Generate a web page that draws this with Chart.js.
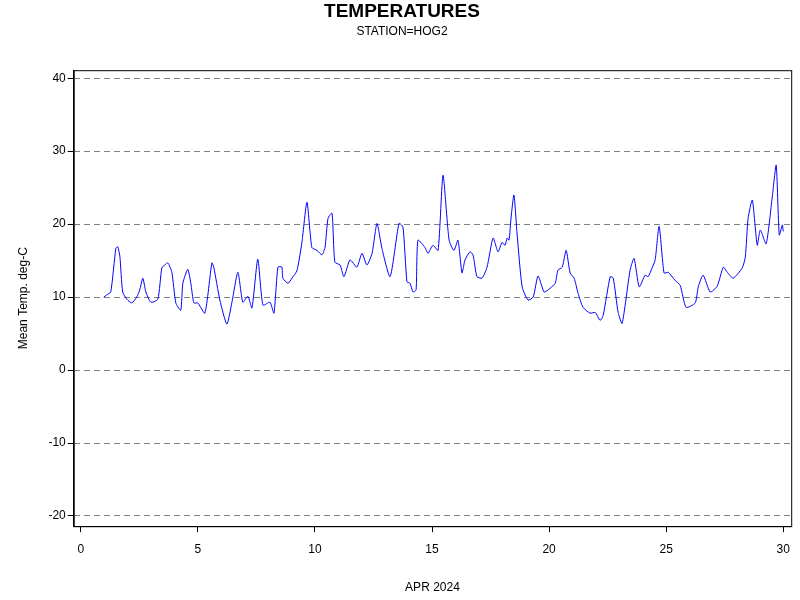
<!DOCTYPE html>
<html>
<head>
<script src="https://cdn.jsdelivr.net/npm/chart.js@4"></script>
<style>
body { margin: 0; background: #fff; }
#wrap { width: 800px; height: 600px; }
</style>
</head>
<body>
<div id="wrap"><canvas id="myChart"></canvas></div>
<script>
// day of April (decimal) and mean temperature
const days = [0.98, 1.11, 1.28, 1.50, 1.58, 1.67, 1.79, 1.97, 2.18, 2.39, 2.52, 2.65, 2.78, 2.99, 3.29, 3.46, 3.59, 3.72, 3.89, 4.06,
    4.27, 4.36, 4.57, 4.70, 4.83, 5.00, 5.30, 5.60, 5.68, 5.94, 6.24, 6.45, 6.71, 6.92, 7.14, 7.31, 7.56, 7.78, 8.08, 8.25,
    8.42, 8.59, 8.63, 8.85, 9.02, 9.23, 9.44, 9.66, 9.87, 10.09, 10.30, 10.43, 10.56, 10.73, 10.85, 11.07, 11.24, 11.50, 11.79, 12.01,
    12.22, 12.44, 12.65, 12.86, 13.21, 13.59, 13.76, 13.93, 14.06, 14.19, 14.32, 14.40, 14.70, 14.83, 15.04, 15.26, 15.47, 15.73, 15.94, 16.11,
    16.28, 16.41, 16.62, 16.75, 16.92, 17.14, 17.35, 17.61, 17.82, 17.99, 18.12, 18.21, 18.29, 18.38, 18.50, 18.63, 18.85, 19.10, 19.32, 19.53,
    19.79, 20.04, 20.26, 20.38, 20.56, 20.73, 20.90, 21.07, 21.24, 21.45, 21.75, 21.97, 22.18, 22.31, 22.61, 22.74, 22.95, 23.12, 23.46, 23.63,
    23.85, 24.10, 24.23, 24.40, 24.53, 24.70, 24.91, 25.09, 25.38, 25.60, 25.85, 26.24, 26.37, 26.58, 26.88, 27.18, 27.44, 27.61, 27.86, 28.25,
    28.38, 28.50, 28.68, 28.89, 29.02, 29.27, 29.53, 29.70, 29.83, 29.96, 30.0];
const temps = [10.0, 10.3, 10.7, 16.7, 16.9, 15.6, 10.7, 9.7, 9.2, 10.0, 11.0, 12.6, 10.7, 9.3, 9.7, 14.0, 14.4, 14.7, 13.4, 9.2,
    8.2, 11.9, 13.8, 11.9, 9.2, 9.2, 7.8, 14.7, 14.1, 9.6, 6.3, 9.2, 13.4, 9.3, 10.1, 8.5, 15.2, 8.9, 9.3, 7.8,
    14.1, 14.1, 12.6, 11.9, 12.6, 13.6, 17.4, 23.0, 16.8, 16.4, 15.8, 16.8, 20.8, 21.5, 14.8, 14.4, 12.8, 15.1, 14.1, 16.0,
    14.4, 16.0, 20.1, 16.7, 12.8, 20.1, 19.6, 12.1, 11.9, 10.7, 11.0, 17.8, 16.8, 16.0, 17.1, 16.4, 26.7, 17.8, 16.4, 17.8,
    13.3, 15.1, 16.2, 15.8, 12.8, 12.6, 14.1, 18.1, 16.2, 17.5, 17.1, 18.1, 17.8, 21.0, 24.0, 18.8, 11.4, 9.6, 10.0, 12.9,
    10.7, 11.2, 11.9, 13.7, 14.1, 16.4, 13.3, 12.6, 10.5, 8.6, 7.8, 7.9, 6.8, 7.5, 12.8, 12.6, 7.9, 6.4, 13.7, 15.3,
    11.4, 13.0, 12.8, 14.0, 15.1, 19.7, 13.3, 13.4, 12.3, 11.6, 8.6, 9.2, 11.4, 13.0, 10.7, 11.5, 14.1, 13.4, 12.6, 14.0,
    15.5, 20.8, 23.3, 17.1, 19.2, 17.3, 23.7, 28.1, 18.5, 19.9, 19.0];
const xTicks = [0, 5, 10, 15, 20, 25, 30];
const yTicks = [-20, -10, 0, 10, 20, 30, 40];

const points = days.map((d, i) => ({ x: d, y: temps[i] }));
const font = { family: 'Arial, "Liberation Sans", sans-serif', size: 12 };

const frame = {
    id: 'frame',
    afterDraw(chart) {
        const { ctx, chartArea: a } = chart;
        ctx.save();
        ctx.strokeStyle = '#000';
        ctx.lineWidth = 1;
        ctx.strokeRect(a.left + 0.5, a.top + 0.5, a.right - a.left, a.bottom - a.top);
        ctx.restore();
    }
};

new Chart(document.getElementById('myChart'), {
    type: 'line',
    data: {
        datasets: [{
            data: points,
            borderColor: '#0000ff',
            borderWidth: 1,
            pointRadius: 0,
            tension: 0.2
        }]
    },
    options: {
        responsive: true,
        maintainAspectRatio: false,
        animation: false,
        layout: { padding: { left: 12, right: 8, top: 0, bottom: 1 } },
        plugins: {
            legend: { display: false },
            tooltip: { enabled: false },
            title: {
                display: true, text: 'TEMPERATURES', color: '#000',
                font: { family: font.family, size: 19, weight: 'bold' }, padding: { top: 0, bottom: 2 }
            },
            subtitle: {
                display: true, text: 'STATION=HOG2', color: '#000',
                font: font, padding: { bottom: 31 }
            }
        },
        scales: {
            x: {
                type: 'linear', min: -0.3, max: 30.34,
                afterBuildTicks: s => { s.ticks = xTicks.map(v => ({ value: v })); },
                grid: { drawOnChartArea: false, drawTicks: true, tickLength: 6, tickColor: '#000' },
                border: { color: '#000' },
                ticks: { color: '#000', font: font, padding: 10 },
                title: { display: true, text: 'APR 2024', color: '#000', font: font, padding: { top: 14 } }
            },
            y: {
                min: -21.4, max: 41.1,
                afterBuildTicks: s => { s.ticks = yTicks.map(v => ({ value: v })); },
                grid: { color: '#808080', tickColor: '#000', tickLength: 6, drawTicks: true },
                border: { color: '#000', dash: [6, 4] },
                ticks: { color: '#000', font: font, padding: 2 },
                title: { display: true, text: 'Mean Temp. deg-C', color: '#000', font: font, padding: { bottom: 16 } }
            }
        }
    },
    plugins: [frame]
});
</script>
</body>
</html>
